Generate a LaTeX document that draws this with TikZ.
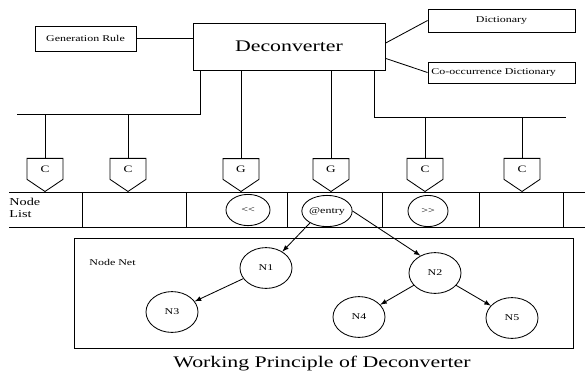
\documentclass[tikz,border=0pt]{standalone}
\usepackage{fontspec}
\setmainfont{Liberation Serif}[FakeStretch=1.35]
\usetikzlibrary{shapes.geometric,shapes.symbols}

\begin{document}
\begin{tikzpicture}[x=0.025cm,y=-0.025cm,line width=0.6pt,>=latex,
  small/.style={font=\fontsize{6.3}{7.5}\selectfont},
  big/.style={font=\fontsize{11.5}{13}\selectfont},
  box/.style={draw,rectangle,small,inner sep=0pt},
  tag/.style={draw,signal,signal to=south,signal pointer angle=112,minimum width=0.9cm,minimum height=0.6cm,inner sep=0pt,anchor=south,font=\fontsize{7}{8}\selectfont},
  ring/.style={draw,ellipse,inner sep=0pt,small,minimum width=1cm,minimum height=0.78cm},
  net/.style={draw,ellipse,inner sep=0pt,small,minimum width=1.3cm,minimum height=1.02cm}]
\useasboundingbox (0,0) rectangle (585,378);

\node[box,minimum width=2.525cm,minimum height=0.625cm] (gen) at (85.5,38.5) {Generation Rule};
\node[draw,big,minimum width=4.8cm,minimum height=1.175cm] (dec) at (289,46.5) {Deconverter};
\node[box,minimum width=3.675cm,minimum height=0.575cm] (dict) at (501.5,20.5) {Dictionary};
\node[box,minimum width=3.675cm,minimum height=0.525cm,text width=3.5cm,align=left] (cooc) at (501.5,72.5) {Co-occurrence Dictionary};

\draw (gen.east) -- (gen.east -| dec.west);
\draw (dec.2) -- (dict.west);
\draw (dec.-7) -- (cooc.west);

\coordinate (lbend) at (200,114);
\coordinate (lend) at (17,114);
\coordinate (rbend) at (374,117);
\coordinate (rend) at (566,117);

\node[tag] (c1) at (45,192) {C};
\node[tag] (c2) at (128,192) {C};
\node[tag] (g1) at (241,192) {G};
\node[tag] (g2) at (331,192) {G};
\node[tag] (c3) at (425,192) {C};
\node[tag] (c4) at (522,192) {C};

\draw (dec.south -| lbend) -- (lbend) -- (lend);
\draw (dec.south -| rbend) -- (rbend) -- (rend);
\draw (c1.north |- lbend) -- (c1.north);
\draw (c2.north |- lbend) -- (c2.north);
\draw (g1.north |- dec.south) -- (g1.north);
\draw (g2.north |- dec.south) -- (g2.north);
\draw (c3.north |- rbend) -- (c3.north);
\draw (c4.north |- rbend) -- (c4.north);

\draw (9,192) -- (585,192) (9,227) -- (585,227);
\foreach \x in {82,186,287,382,479,563}
  \draw (\x,192) -- (\x,227);
\node[anchor=west,align=left,font=\fontsize{7.5}{9}\selectfont,inner sep=0pt] (list) at (9,208) {Node\\List};

\node[ring,minimum width=1.1cm] (shl) at (248,210) {<{}<};
\node[ring] (entry) at (327,211) {@entry};
\node[ring] (shr) at (428,211) {>{}>};

\draw (74,238) rectangle (573,348);
\node[small,anchor=west,inner sep=0pt] (netlabel) at (89,262) {Node Net};

\node[net] (n1) at (266,268) {N1};
\node[net] (n2) at (435,273) {N2};
\node[net] (n3) at (172,312) {N3};
\node[net] (n4) at (359,317) {N4};
\node[net] (n5) at (512,318) {N5};

\draw[->] (entry.215) -- (n1.45);
\draw[->] (entry.east) -- (n2.130);
\draw[->] (n1) -- (n3);
\draw[->] (n2) -- (n4);
\draw[->] (n2) -- (n5);

\node[big] (caption) at (322,364) {Working Principle of Deconverter};
\end{tikzpicture}
\end{document}
